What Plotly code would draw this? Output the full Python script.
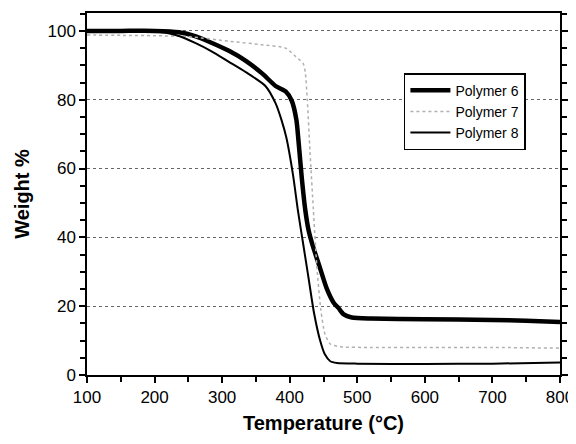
import plotly.graph_objects as go

# Temperature (°C) and weight (%)
temp_p6 = [100, 150, 200, 236, 260, 285, 310, 335, 360, 379, 394, 403, 410, 413, 418, 423, 428, 435, 445, 455, 465, 472, 480, 492, 520, 600, 700, 750, 800]
wt_p6 = [100, 100, 100, 99.6, 98.5, 96.5, 94.2, 91.3, 87.5, 84, 82.4, 79.7, 74, 68, 57, 48, 42, 37, 31, 25, 21, 19.5, 17.6, 16.7, 16.4, 16.2, 16.0, 15.8, 15.4]

temp_p7 = [100, 150, 200, 251, 310, 358, 394, 409, 420, 423, 426, 430, 435, 440, 446, 452, 460, 475, 520, 600, 700, 800]
wt_p7 = [98.8, 98.7, 98.6, 98.3, 97, 96, 95, 92.5, 90.5, 88, 80, 65, 48, 32, 19, 12, 9, 8.2, 8.0, 8.0, 8.0, 7.8]

temp_p8 = [100, 150, 190, 215, 236, 260, 285, 310, 335, 364, 379, 388, 395, 405, 412, 420, 428, 436, 445, 452, 460, 470, 500, 600, 700, 800]
wt_p8 = [100, 100, 99.9, 99.5, 98.5, 96.5, 94, 91, 88, 84, 79, 74, 69, 58, 48, 38, 28, 18, 10, 6, 4, 3.5, 3.3, 3.2, 3.3, 3.6]

x_ticks = [100, 200, 300, 400, 500, 600, 700, 800]
y_ticks = [0, 20, 40, 60, 80, 100]

font_family = "Liberation Sans, Arial, sans-serif"

fig = go.Figure()
fig.add_trace(go.Scatter(x=temp_p6, y=wt_p6, mode="lines", name="Polymer 6",
                         line=dict(color="black", width=4.5, shape="spline", smoothing=0.6)))
fig.add_trace(go.Scatter(x=temp_p7, y=wt_p7, mode="lines", name="Polymer 7",
                         line=dict(color="#b0b0b0", width=1.5, dash="dot", shape="spline", smoothing=0.6)))
fig.add_trace(go.Scatter(x=temp_p8, y=wt_p8, mode="lines", name="Polymer 8",
                         line=dict(color="black", width=2, shape="spline", smoothing=0.6)))

# The page adds an 8px body margin, so the figure is 8px smaller and shifted
fig.update_layout(
    width=568, height=436,
    margin=dict(l=79, r=16, t=5, b=69, autoexpand=False),
    paper_bgcolor="white", plot_bgcolor="white",
    font=dict(family=font_family, color="black", size=17),
    showlegend=True,
    legend=dict(x=0.67, y=0.834, xanchor="left", yanchor="top",
                bordercolor="black", borderwidth=1.5, bgcolor="white",
                font=dict(size=14, family=font_family), tracegroupgap=0,
                itemwidth=40),
    xaxis=dict(range=[100, 800], tickvals=x_ticks, ticks="outside", ticklen=6,
               tickwidth=1.5, tickcolor="black", automargin=False,
               minor=dict(dtick=50, tick0=100, ticks="outside", ticklen=5, tickcolor="black", tickwidth=1.5),
               showline=True, linecolor="black", linewidth=1.5, mirror=True,
               showgrid=False, zeroline=False,
               title=dict(text="<b>Temperature (°C)</b>", font=dict(size=20), standoff=10),
               tickfont=dict(size=17)),
    yaxis=dict(range=[0, 105.2], tickvals=y_ticks, ticks="outside", ticklen=6,
               tickwidth=1.5, tickcolor="black", automargin=False,
               minor=dict(dtick=5, tick0=0, ticks="outside", ticklen=5, tickcolor="black", tickwidth=1.5,
                          showgrid=False),
               showline=True, linecolor="black", linewidth=1.5, mirror="ticks",
               showgrid=True, gridcolor="#666666", griddash="dot", gridwidth=1,
               zeroline=False,
               title=dict(text="<b>Weight %</b>", font=dict(size=20), standoff=12),
               tickfont=dict(size=17)),
)

fig.write_html("out.html")
